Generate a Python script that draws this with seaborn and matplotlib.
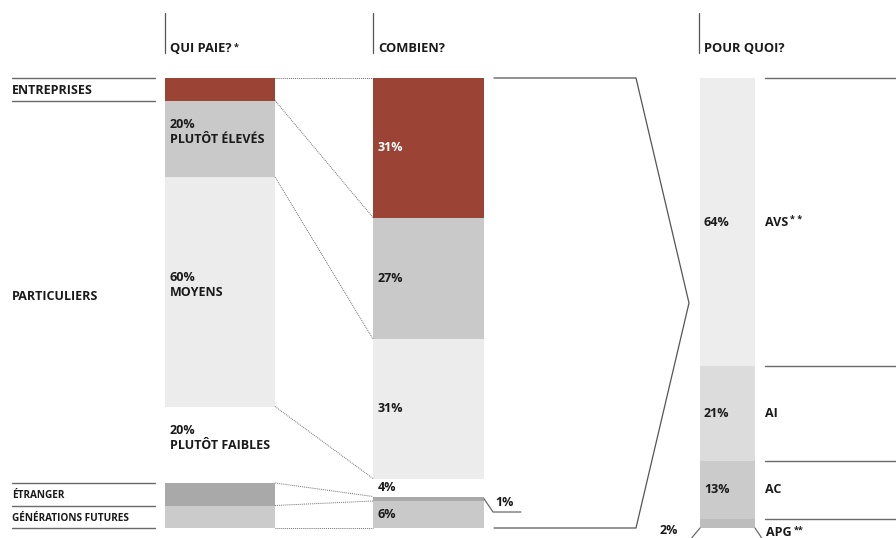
import numpy as np
import matplotlib
matplotlib.use("Agg")
import matplotlib.pyplot as plt
import seaborn as sns

# ---------------- data ----------------
qui_paie_labels = ["ENTREPRISES", "PLUTÔT ÉLEVÉS", "MOYENS", "PLUTÔT FAIBLES",
                   "ÉTRANGER", "GÉNÉRATIONS FUTURES"]
qui_paie_share = [5, 17, 51, 17, 5, 5]          # displayed column heights
menages_pct = [20, 60, 20]                        # share of households
combien_pct = [31, 27, 31, 4, 1, 6]
pour_quoi_labels = ["AVS", "AI", "AC", "APG"]
pour_quoi_stars = ["* *", "", "", "**"]
pour_quoi_pct = [64, 21, 13, 2]
headers = ["QUI PAIE?", "COMBIEN?", "POUR QUOI?"]

# ---------------- style ----------------
sns.set_theme(style="white")
plt.rcParams["font.family"] = ["Open Sans", "DejaVu Sans"]
TXT = "#1a1a1a"
LINE = "#6a6a6a"
RED = "#9b4334"

W, H = 896, 538
PX = 4.5          # pixels per percent
TOP = 78          # pixel of 0 %
fig = plt.figure(figsize=(W / 100, H / 100), dpi=100)
ax = fig.add_axes([0, 0, 1, 1])
ax.set_xlim(0, W)
ax.set_ylim((H - TOP) / PX, -TOP / PX)
ax.axis("off")


def py(p):
    """pixel row -> percent units"""
    return (p - TOP) / PX


FS = 9.0
FS_S = 7.2
FS_H = 9.3
FS_STAR = 6.5

# ---------------- columns ----------------
left_colors = [RED, "#c9c9c9", "#ececec", "white", "#a9a9a9", "#cbcbcb"]
mid_colors = [RED, "#c9c9c9", "#ececec", "white", "#a9a9a9", "#c9c9c9"]
right_colors = ["#ededed", "#dcdcdc", "#cbcbcb", "#bdbdbd"]

L0, L1 = 165, 275
M0, M1 = 373, 484
R0, R1 = 700, 755

lcum = np.concatenate([[0], np.cumsum(qui_paie_share)])
mcum = np.concatenate([[0], np.cumsum(combien_pct)])
rcum = np.concatenate([[0], np.cumsum(pour_quoi_pct)])

ax.bar([(L0 + L1) / 2] * len(qui_paie_share), qui_paie_share, bottom=lcum[:-1],
       width=L1 - L0, color=left_colors, linewidth=0)
ax.bar([(M0 + M1) / 2] * len(combien_pct), combien_pct, bottom=mcum[:-1],
       width=M1 - M0, color=mid_colors, linewidth=0)
ax.bar([(R0 + R1) / 2] * len(pour_quoi_pct), pour_quoi_pct, bottom=rcum[:-1],
       width=R1 - R0, color=right_colors, linewidth=0)

# ---------------- headers ----------------
for x, h, star in zip([L0, M0, R0 - 1], headers, ["*", "", ""]):
    ax.plot([x, x], [py(13), py(53)], color="#555555", lw=0.9)
    t = ax.text(x + 5, py(52.5), h, fontsize=FS_H, fontweight="bold",
                color=TXT, va="baseline", ha="left")
    if star:
        ax.annotate(star, xy=(1, 1), xycoords=t, xytext=(1.5, 0),
                    textcoords="offset points", fontsize=FS_STAR,
                    fontweight="bold", color=TXT, va="top", ha="left")

# ---------------- left side labels ----------------
for y in [lcum[0], lcum[1], lcum[4], lcum[5], lcum[6]]:
    ax.plot([12, 155], [y, y], color=LINE, lw=1.0)
ax.text(12, (lcum[0] + lcum[1]) / 2, qui_paie_labels[0], fontsize=FS,
        fontweight="bold", color=TXT, va="center_baseline")
ax.text(12, (lcum[1] + lcum[4]) / 2 + 0.7, "PARTICULIERS", fontsize=FS,
        fontweight="bold", color=TXT, va="center_baseline")
ax.text(12, (lcum[4] + lcum[5]) / 2, qui_paie_labels[4], fontsize=FS_S,
        fontweight="bold", color=TXT, va="center_baseline")
ax.text(12, (lcum[5] + lcum[6]) / 2, qui_paie_labels[5], fontsize=FS_S,
        fontweight="bold", color=TXT, va="center_baseline")

# household labels inside left column
for i, pct in enumerate(menages_pct):
    k = i + 1
    yc = (lcum[k] + lcum[k + 1]) / 2 - 1.5
    ax.text(L0 + 5, yc, f"{pct}%\n{qui_paie_labels[k]}", fontsize=FS,
            fontweight="bold", color=TXT, va="center", ha="left",
            linespacing=1.25)

# dotted connectors
for a, b in zip(lcum, mcum):
    ax.plot([L1, M0], [a, b], color="#707070", lw=0.7, ls=(0, (1, 1)))

# ---------------- middle labels ----------------
for i, pct in enumerate(combien_pct):
    yc = (mcum[i] + mcum[i + 1]) / 2
    if pct == 1:
        ax.plot([M1, 493, 521], [yc, py(512), py(512)], color=LINE, lw=0.9)
        ax.text(495, py(503), f"{pct}%", fontsize=FS, fontweight="bold",
                color=TXT, va="center", ha="left")
        continue
    col = "white" if i == 0 else TXT
    ax.text(M0 + 5, yc, f"{pct}%", fontsize=FS, fontweight="bold",
            color=col, va="center", ha="left")

# chevron bracket
ax.plot([494, 636, 689, 636, 494], [mcum[0], mcum[0], 50, mcum[-1], mcum[-1]],
        color="#555555", lw=0.9)

# ---------------- right column ----------------
for y in rcum[:-1]:
    ax.plot([765, W], [y, y], color=LINE, lw=1.0)
for i, (lab, st, pct) in enumerate(zip(pour_quoi_labels, pour_quoi_stars,
                                       pour_quoi_pct)):
    yc = (rcum[i] + rcum[i + 1]) / 2
    if i == len(pour_quoi_pct) - 1:
        ax.plot([R0, 690], [rcum[-1], py(540)], color=LINE, lw=0.9)
        ax.plot([R1, 763], [rcum[-1], py(540)], color=LINE, lw=0.9)
        ax.text(678, py(530), f"{pct}%", fontsize=FS, fontweight="bold",
                color=TXT, va="center", ha="right")
        t = ax.text(766, py(532), lab, fontsize=FS, fontweight="bold",
                    color=TXT, va="center", ha="left")
    else:
        ax.text(R0 + 4, yc, f"{pct}%", fontsize=FS, fontweight="bold",
                color=TXT, va="center", ha="left")
        t = ax.text(765, yc, lab, fontsize=FS, fontweight="bold",
                    color=TXT, va="center", ha="left")
    if st:
        ax.annotate(st, xy=(1, 1), xycoords=t, xytext=(1.5, 0),
                    textcoords="offset points", fontsize=FS_STAR,
                    fontweight="bold", color=TXT, va="top", ha="left")

fig.savefig("out.png", dpi=100)
